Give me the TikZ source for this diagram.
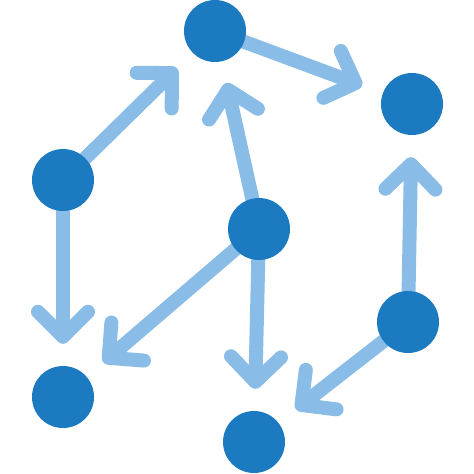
\documentclass[tikz,border=0pt]{standalone}
\usetikzlibrary{arrows.meta, backgrounds}
\definecolor{nodeblue}{RGB}{28,123,192}
\definecolor{linkblue}{RGB}{137,189,232}
\tikzset{
vertex/.style = {circle, fill = nodeblue, minimum size = 62pt, inner sep = 0pt},
link/.style = {-{Straight Barb[length = 25pt, width = 50pt, round]}, draw = linkblue,
   line width = 14pt, line cap = round, shorten > = 22pt}
}

\begin{document}
\begin{tikzpicture}[x = 1pt, y = -1pt]

\useasboundingbox (0, 0) rectangle (474, 474);

%% Vertices
\foreach \n/\x/\y in {top/215/31, topright/412/104, left/63/180, mid/259/229,
   lowright/408/322, botleft/63/397, botmid/254/442} {
   \node [vertex] (\n) at (\x, \y) {};
}

%% Links, behind the vertices
\begin{scope}[on background layer]
\foreach \a/\b in {left/top, top/topright, mid/top, lowright/topright,
   left/botleft, mid/botleft, mid/botmid, lowright/botmid} {
   \draw [link] (\a.center) -- (\b);
}
\end{scope}

\end{tikzpicture}
\end{document}
